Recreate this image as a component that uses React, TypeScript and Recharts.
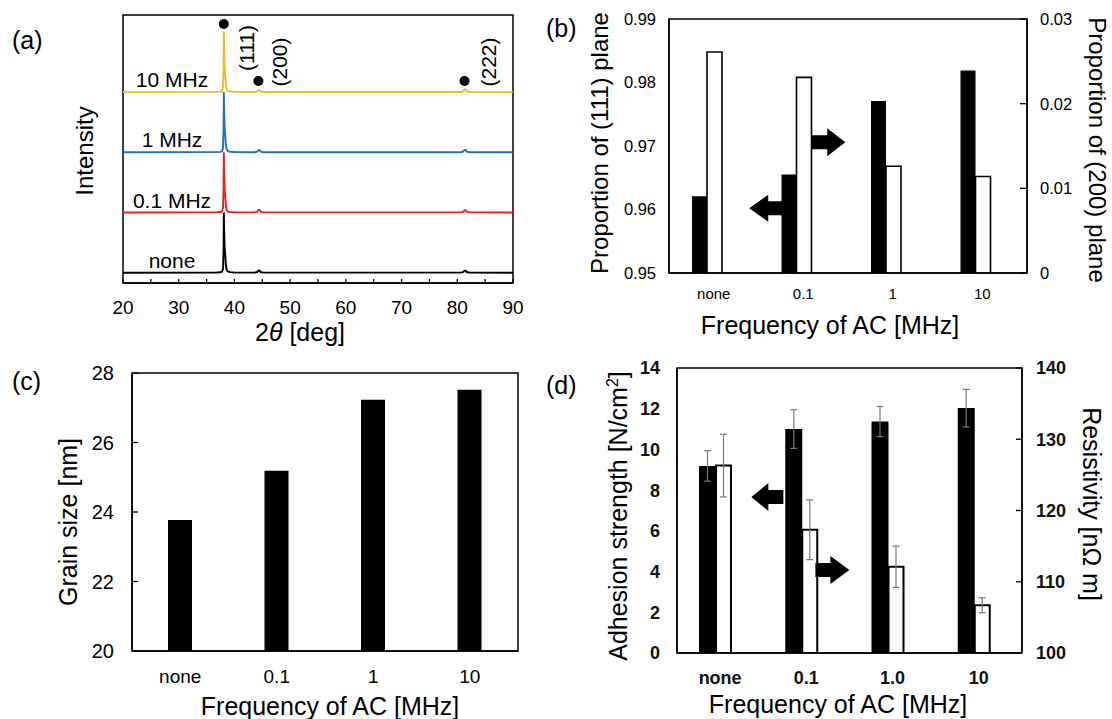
import React from 'react';
import {
  ComposedChart, Line, Bar, XAxis, YAxis, ReferenceArea, ReferenceDot, ErrorBar,
} from 'recharts';

const FONT = "'Liberation Sans', Arial, Helvetica, sans-serif";

// ---------- (a) XRD patterns ----------
const twoTheta = [20, 36.5, 37.5, 37.8, 37.95, 38.05, 38.1, 38.15, 38.25, 38.35, 38.45, 38.6, 38.8, 39.2, 40, 43.6, 44.1, 44.3, 44.5, 44.7, 45.2, 80.6, 81.1, 81.3, 81.5, 81.7, 82.2, 90];
const intNone = [0, 3, 8, 20, 70, 380, 1000, 720, 400, 300, 140, 55, 22, 10, 4, 2, 12, 35, 38, 12, 2, 2, 15, 35, 35, 12, 2, 0];
const int01 = [0, 3, 8, 22, 80, 420, 1000, 700, 380, 280, 130, 50, 20, 9, 4, 2, 14, 42, 45, 14, 2, 2, 16, 40, 40, 14, 2, 0];
const int1 = [0, 3, 8, 22, 75, 400, 1000, 710, 390, 290, 135, 52, 21, 9, 4, 2, 12, 36, 38, 12, 2, 2, 15, 38, 38, 12, 2, 0];
const int10 = [0, 3, 8, 22, 78, 410, 1000, 700, 385, 285, 130, 50, 20, 9, 4, 2, 10, 30, 32, 10, 2, 2, 16, 42, 42, 14, 2, 0];
const patternNames = ['none', '0.1 MHz', '1 MHz', '10 MHz'];
const patternOffsets = [0, 1000, 2000, 3000];
const patternColors = ['#000000', '#f21c1c', '#1f6fc4', '#f6b627'];
const patternSeries = [intNone, int01, int1, int10];
const xTicksA = [20, 25, 30, 35, 40, 45, 50, 55, 60, 65, 70, 75, 80, 85, 90];
const peakPos = [38.1, 44.3, 81.3];
const peakMarkY = [4130, 3184, 3184];
const peakHkl = ['(111)', '(200)', '(222)'];

// ---------- (b) texture ----------
const freqB = ['none', '0.1', '1', '10'];
const prop111 = [0.9621, 0.9655, 0.9771, 0.9819];
const prop200 = [0.0261, 0.0231, 0.0126, 0.0114];
const leftTicksB = [0.95, 0.96, 0.97, 0.98, 0.99];
const rightTicksB = [0, 0.01, 0.02, 0.03];

// ---------- (c) grain size ----------
const freqC = ['none', '0.1', '1', '10'];
const grainSize = [23.77, 25.19, 27.23, 27.52];
const ticksC = [20, 22, 24, 26, 28];

// ---------- (d) adhesion / resistivity ----------
const freqD = ['none', '0.1', '1.0', '10'];
const adhesion = [9.19, 11.0, 11.37, 12.03];
const adhesionErr = [0.75, 0.95, 0.74, 0.92];
const resistivity = [126.3, 117.3, 112.1, 106.7];
const resistivityErr = [4.4, 4.2, 2.9, 1.05];
const leftTicksD = [0, 2, 4, 6, 8, 10, 12, 14];
const rightTicksD = [100, 110, 120, 130, 140];

// layout helpers (annotation offsets in px relative to anchor)
const labelOffsetA: Record<string, [number, number]> = {
  '(111)': [23, 24],
  '(200)': [21, -19],
  '(222)': [24, -19],
};

function arrowShape(dir: 'left' | 'right', a: number, b: number, head: number, hh: number, sh: number) {
  return (p: any) => {
    const { cx, cy } = p;
    if (cx == null || cy == null) return <g />;
    let pts = '';
    if (dir === 'left') {
      const tip = cx + a, base = tip + head, tail = cx + b;
      pts = `${tip},${cy} ${base},${cy - hh} ${base},${cy - sh} ${tail},${cy - sh} ${tail},${cy + sh} ${base},${cy + sh} ${base},${cy + hh}`;
    } else {
      const tail = cx + a, tip = cx + b, base = tip - head;
      pts = `${tail},${cy - sh} ${base},${cy - sh} ${base},${cy - hh} ${tip},${cy} ${base},${cy + hh} ${base},${cy + sh} ${tail},${cy + sh}`;
    }
    return <polygon points={pts} fill="#000" />;
  };
}

function PanelA() {
  const rows = twoTheta.map((t, i) => {
    const r: any = { t };
    patternSeries.forEach((s, k) => { r['s' + k] = s[i] + patternOffsets[k]; });
    return r;
  });
  return (
    <div style={{ position: 'absolute', left: 0, top: 0 }}>
      <ComposedChart width={540} height={360} data={rows} margin={{ top: 15, right: 27, bottom: 47, left: 123 }}>
        <XAxis
          type="number" dataKey="t" domain={[20, 90]} ticks={xTicksA} interval={0} allowDataOverflow
          tickFormatter={(v: number) => (v % 10 === 0 ? String(v) : '')}
          tickSize={-4} tickMargin={22} height={30}
          tick={{ fill: '#000', fontSize: 19, fontFamily: FONT }}
          tickLine={{ stroke: '#000', strokeWidth: 1.3 }}
          axisLine={{ stroke: '#000', strokeWidth: 1.5 }}
        />
        <YAxis hide type="number" domain={[-170, 4280]} allowDataOverflow />
        {patternSeries.map((_, k) => (
          <Line key={k} type="linear" dataKey={'s' + k} stroke={patternColors[k]} strokeWidth={1.9}
            dot={false} isAnimationActive={false} />
        ))}
        <ReferenceArea x1={20} x2={90} y1={-170} y2={4280} fill="none" stroke="#000" strokeWidth={1.5} />
        {patternNames.map((n, k) => (
          <ReferenceDot key={'n' + k} x={28.8} y={patternOffsets[k]} r={0}
            shape={(p: any) => (
              <text x={p.cx} y={p.cy - 5} textAnchor="middle" fontSize={21} fill="#000" fontFamily={FONT}>{n}</text>
            )} />
        ))}
        {peakPos.map((x, k) => (
          <ReferenceDot key={'p' + k} x={x} y={peakMarkY[k]} r={5}
            shape={(p: any) => {
              const [dx, dy] = labelOffsetA[peakHkl[k]];
              return (
                <g>
                  <circle cx={p.cx} cy={p.cy} r={5} fill="#000" />
                  <text transform={`translate(${p.cx + dx},${p.cy + dy}) rotate(-90)`} textAnchor="middle"
                    dy="0.35em" fontSize={21} fill="#000" fontFamily={FONT}>{peakHkl[k]}</text>
                </g>
              );
            }} />
        ))}
      </ComposedChart>
    </div>
  );
}

function PanelB() {
  const rows = freqB.map((f, i) => ({ f, p111: prop111[i], p200: prop200[i] }));
  return (
    <div style={{ position: 'absolute', left: 540, top: 0 }}>
      <ComposedChart width={572} height={360} data={rows} barGap={0} margin={{ top: 19, right: 25, bottom: 57, left: 69 }}>
        <XAxis dataKey="f" height={30} tickSize={0} tickMargin={15} tickLine={false}
          tick={{ fill: '#000', fontSize: 15, fontFamily: FONT }} axisLine={{ stroke: '#000', strokeWidth: 1.5 }} />
        <YAxis yAxisId="left" width={60} type="number" domain={[0.95, 0.99]} ticks={leftTicksB} interval={0}
          allowDataOverflow tickFormatter={(v: number) => v.toFixed(2)} tickSize={0} tickMargin={13} tickLine={false}
          tick={{ fill: '#000', fontSize: 16.5, fontFamily: FONT }} axisLine={{ stroke: '#000', strokeWidth: 1.5 }} />
        <YAxis yAxisId="right" orientation="right" width={60} type="number" domain={[0, 0.03]} ticks={rightTicksB}
          interval={0} allowDataOverflow tickFormatter={(v: number) => (v === 0 ? '0' : v.toFixed(2))}
          tickSize={-7} tickMargin={20} tickLine={{ stroke: '#000', strokeWidth: 1.3 }}
          tick={{ fill: '#000', fontSize: 16.5, fontFamily: FONT }} axisLine={{ stroke: '#000', strokeWidth: 1.5 }} />
        <Bar yAxisId="left" dataKey="p111" barSize={15} fill="#000" isAnimationActive={false} />
        <Bar yAxisId="right" dataKey="p200" barSize={15} fill="#fff" stroke="#000" strokeWidth={1.6} isAnimationActive={false} />
        <Bar yAxisId="left" dataKey="gap" barSize={14} fill="none" isAnimationActive={false} />
        <ReferenceArea yAxisId="left" y1={0.95} y2={0.99} fill="none" stroke="#000" strokeWidth={1.5} />
        <ReferenceDot yAxisId="left" x="0.1" y={0.9602} r={1} shape={arrowShape('left', -54, -21, 19, 13.5, 7)} />
        <ReferenceDot yAxisId="left" x="0.1" y={0.9706} r={1} shape={arrowShape('right', 8, 42, 18, 14, 7)} />
      </ComposedChart>
    </div>
  );
}

function PanelC() {
  const rows = freqC.map((f, i) => ({ f, g: grainSize[i] }));
  return (
    <div style={{ position: 'absolute', left: 0, top: 340 }}>
      <ComposedChart width={540} height={379} data={rows} margin={{ top: 33, right: 22, bottom: 38, left: 72 }}>
        <XAxis dataKey="f" height={30} tickSize={0} tickMargin={19} tickLine={false}
          tick={{ fill: '#000', fontSize: 19, fontFamily: FONT }} axisLine={{ stroke: '#000', strokeWidth: 1.5 }} />
        <YAxis width={60} type="number" domain={[20, 28]} ticks={ticksC} interval={0} allowDataOverflow
          tickSize={-6} tickMargin={24} tickLine={{ stroke: '#000', strokeWidth: 1.3 }}
          tick={{ fill: '#000', fontSize: 20, fontFamily: FONT }} axisLine={{ stroke: '#000', strokeWidth: 1.5 }} />
        <Bar dataKey="g" barSize={24} fill="#000" isAnimationActive={false} />
        <ReferenceArea y1={20} y2={28} fill="none" stroke="#000" strokeWidth={1.5} />
      </ComposedChart>
    </div>
  );
}

function PanelD() {
  const rows = freqD.map((f, i) => ({
    f, adh: adhesion[i], adhErr: adhesionErr[i], res: resistivity[i], resErr: resistivityErr[i],
  }));
  const tickStyle = { fill: '#111', fontSize: 18, fontFamily: FONT, fontWeight: 700 };
  return (
    <div style={{ position: 'absolute', left: 540, top: 340 }}>
      <ComposedChart width={572} height={379} data={rows} barGap={0} margin={{ top: 28, right: 30, bottom: 36, left: 77 }}>
        <XAxis dataKey="f" height={30} tickSize={0} tickMargin={18} tickLine={false}
          tick={tickStyle} axisLine={{ stroke: '#000', strokeWidth: 1.5 }} />
        <YAxis yAxisId="left" width={60} type="number" domain={[0, 14]} ticks={leftTicksD} interval={0}
          allowDataOverflow tickSize={0} tickMargin={17} tickLine={false}
          tick={tickStyle} axisLine={{ stroke: '#000', strokeWidth: 1.5 }} />
        <YAxis yAxisId="right" orientation="right" width={60} type="number" domain={[100, 140]} ticks={rightTicksD}
          interval={0} allowDataOverflow tickSize={-6} tickMargin={20} tickLine={{ stroke: '#000', strokeWidth: 1.3 }}
          tick={tickStyle} axisLine={{ stroke: '#000', strokeWidth: 1.5 }} />
        <Bar yAxisId="left" dataKey="adh" barSize={17} fill="#000" isAnimationActive={false}>
          <ErrorBar dataKey="adhErr" width={3.5} stroke="#7a7a7a" strokeWidth={1.2} direction="y" />
        </Bar>
        <Bar yAxisId="right" dataKey="res" barSize={15} fill="#fff" stroke="#000" strokeWidth={2} isAnimationActive={false}>
          <ErrorBar dataKey="resErr" width={3.5} stroke="#7a7a7a" strokeWidth={1.2} direction="y" />
        </Bar>
        <Bar yAxisId="left" dataKey="gap" barSize={11} fill="none" isAnimationActive={false} />
        <ReferenceArea yAxisId="left" y1={0} y2={14} fill="none" stroke="#000" strokeWidth={1.5} />
        <ReferenceDot yAxisId="left" x="0.1" y={7.66} r={1} shape={arrowShape('left', -55, -23, 17, 14, 7)} />
        <ReferenceDot yAxisId="left" x="0.1" y={4.08} r={1} shape={arrowShape('right', 9, 43, 19, 14, 7)} />
      </ComposedChart>
    </div>
  );
}

function Overlay() {
  const t = { fill: '#000', fontFamily: FONT } as const;
  return (
    <svg width={1112} height={719} style={{ position: 'absolute', left: 0, top: 0, pointerEvents: 'none' }}>
      <text x={12} y={49} fontSize={25} {...t}>(a)</text>
      <text x={546} y={37} fontSize={25} {...t}>(b)</text>
      <text x={12} y={390} fontSize={25} {...t}>(c)</text>
      <text x={546} y={394} fontSize={25} {...t}>(d)</text>

      <text transform="translate(85,151) rotate(-90)" textAnchor="middle" dy="0.35em" fontSize={24} {...t}>Intensity</text>
      <text x={300} y={332} textAnchor="middle" dy="0.35em" fontSize={25} {...t}>
        <tspan>2</tspan><tspan fontStyle="italic">θ</tspan><tspan> [deg]</tspan>
      </text>

      <text transform="translate(600,143) rotate(-90)" textAnchor="middle" dy="0.35em" fontSize={24} {...t}>Proportion of (111) plane</text>
      <text transform="translate(1097,150) rotate(90)" textAnchor="middle" dy="0.35em" fontSize={24} {...t}>Proportion of (200) plane</text>
      <text x={830} y={325} textAnchor="middle" dy="0.35em" fontSize={25} {...t}>Frequency of AC [MHz]</text>

      <text transform="translate(68,522) rotate(-90)" textAnchor="middle" dy="0.35em" fontSize={25} {...t}>Grain size [nm]</text>
      <text x={330} y={706} textAnchor="middle" dy="0.35em" fontSize={25} {...t}>Frequency of AC [MHz]</text>

      <text transform="translate(618,516) rotate(-90)" textAnchor="middle" dy="0.35em" fontSize={25} {...t}>
        Adhesion strength [N/cm<tspan fontSize={16} dy="-9">2</tspan><tspan dy="9">]</tspan>
      </text>
      <text transform="translate(1092,504) rotate(90)" textAnchor="middle" dy="0.35em" fontSize={25} {...t}>Resistivity [nΩ m]</text>
      <text x={838} y={704} textAnchor="middle" dy="0.35em" fontSize={25} {...t}>Frequency of AC [MHz]</text>
    </svg>
  );
}

export default function App() {
  return (
    <div style={{ position: 'absolute', left: 0, top: 0, width: 1112, height: 719, background: '#fff', fontFamily: FONT, overflow: 'hidden' }}>
      <PanelA />
      <PanelB />
      <PanelC />
      <PanelD />
      <Overlay />
    </div>
  );
}
